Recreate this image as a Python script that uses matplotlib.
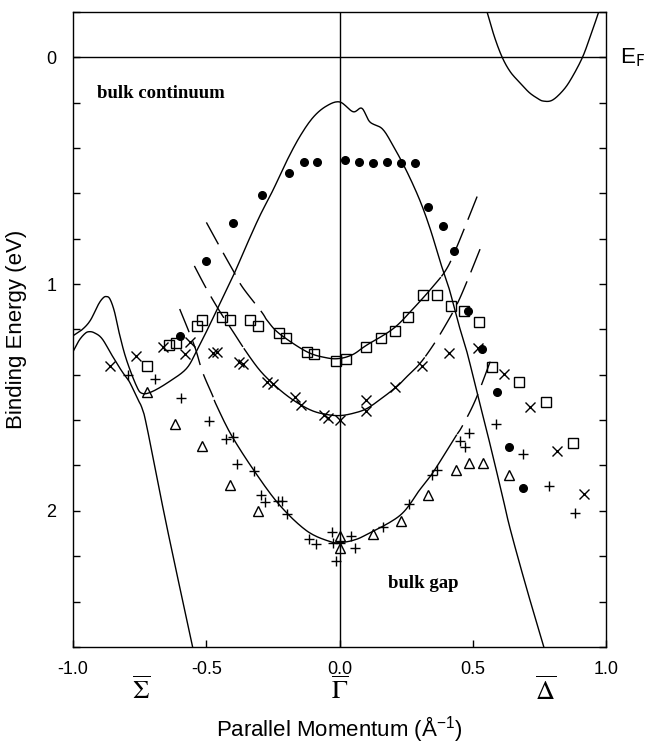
import numpy as np
import matplotlib
matplotlib.use('Agg')
import matplotlib.pyplot as plt
from matplotlib.ticker import MultipleLocator
import matplotlib.transforms as mtransforms

plt.rcParams['font.family'] = ['Liberation Sans', 'DejaVu Sans']
plt.rcParams['axes.unicode_minus'] = False

# --- calculated bulk band edges (k in 1/A, E in eV) ---
dome_k = [-1.0, -0.965, -0.935, -0.905, -0.888, -0.876, -0.862, -0.845, -0.827, -0.801,
          -0.763, -0.741, -0.703, -0.639, -0.575, -0.538, -0.50, -0.459, -0.40, -0.35,
          -0.30, -0.25, -0.20, -0.15, -0.10, -0.05, 0.0, 0.05, 0.083, 0.113, 0.16, 0.20,
          0.25, 0.30, 0.34, 0.376, 0.41, 0.444, 0.477, 0.515, 0.56, 0.609, 0.639, 0.70,
          0.77]
dome_E = [1.228, 1.20, 1.16, 1.09, 1.062, 1.055, 1.065, 1.12, 1.215, 1.329,
          1.447, 1.482, 1.474, 1.430, 1.373, 1.298, 1.21, 1.11, 0.965, 0.83,
          0.70, 0.585, 0.46, 0.35, 0.265, 0.215, 0.197, 0.24, 0.225, 0.285, 0.316, 0.39,
          0.50, 0.63, 0.76, 0.90, 1.02, 1.17, 1.30, 1.48, 1.69, 1.93, 2.08, 2.34,
          2.62]

lower_k = [-1.0, -0.977, -0.955, -0.94, -0.92, -0.891, -0.853, -0.816, -0.789, -0.759,
           -0.741, -0.722, -0.65, -0.548]
lower_E = [1.298, 1.248, 1.218, 1.21, 1.215, 1.241, 1.316, 1.386, 1.43, 1.504,
           1.548, 1.636, 2.06, 2.62]

fermi_k = [0.545, 0.553, 0.58, 0.609, 0.64, 0.677, 0.71, 0.74, 0.763, 0.797, 0.838,
           0.87, 0.91, 0.94, 0.97, 0.975]
fermi_E = [-0.22, -0.197, -0.09, 0.0, 0.065, 0.114, 0.155, 0.18, 0.193, 0.189, 0.145,
           0.09, 0.0, -0.095, -0.197, -0.22]

# --- fitted surface-state bands (solid inside fit range, dashed outside) ---
band1_k = [-0.50, -0.451, -0.40, -0.365, -0.293, -0.271, -0.226, -0.124, -0.05, 0.0,
           0.05, 0.10, 0.20, 0.274, 0.35, 0.40, 0.44, 0.515]
band1_E = [0.728, 0.833, 0.94, 1.013, 1.123, 1.162, 1.219, 1.298, 1.325, 1.328,
           1.31, 1.27, 1.197, 1.11, 1.01, 0.934, 0.833, 0.614]
band1_fit = (-0.28, 0.38)

band2_k = [-0.545, -0.50, -0.45, -0.40, -0.35, -0.30, -0.25, -0.20, -0.15, -0.10, -0.05,
           0.0, 0.05, 0.10, 0.15, 0.214, 0.25, 0.30, 0.35, 0.395, 0.44, 0.48, 0.526]
band2_E = [0.92, 1.02, 1.12, 1.21, 1.30, 1.38, 1.44, 1.49, 1.53, 1.56, 1.575,
           1.58, 1.57, 1.55, 1.51, 1.452, 1.41, 1.351, 1.27, 1.184, 1.088, 0.98, 0.846]
band2_fit = (-0.36, 0.32)

band3_k = [-0.60, -0.545, -0.515, -0.477, -0.462, -0.406, -0.32, -0.226, -0.124, -0.038,
           0.0, 0.05, 0.10, 0.226, 0.30, 0.35, 0.43, 0.459, 0.508, 0.564]
band3_E = [1.11, 1.272, 1.386, 1.491, 1.535, 1.667, 1.825, 1.974, 2.088, 2.135,
           2.14, 2.13, 2.105, 2.02, 1.907, 1.83, 1.68, 1.627, 1.513, 1.342]
band3_fit = (-0.47, 0.44)

# --- measured peaks ---
dots_k = [-0.598, -0.50, -0.40, -0.293, -0.19, -0.135, -0.086, 0.019, 0.071, 0.124,
          0.177, 0.229, 0.282, 0.33, 0.386, 0.43, 0.48, 0.534, 0.59, 0.636, 0.688]
dots_E = [1.228, 0.90, 0.73, 0.605, 0.51, 0.46, 0.46, 0.455, 0.46, 0.465,
          0.46, 0.465, 0.465, 0.66, 0.745, 0.856, 1.12, 1.285, 1.474, 1.72, 1.90]

sq_k = [-0.722, -0.639, -0.613, -0.537, -0.515, -0.44, -0.41, -0.335, -0.308, -0.229,
        -0.203, -0.124, -0.098, -0.015, 0.023, 0.10, 0.154, 0.207, 0.256, 0.312,
        0.364, 0.417, 0.466, 0.522, 0.571, 0.673, 0.774, 0.876]
sq_E = [1.36, 1.268, 1.259, 1.187, 1.157, 1.145, 1.16, 1.157, 1.184, 1.215,
        1.237, 1.298, 1.307, 1.338, 1.329, 1.276, 1.237, 1.206, 1.145, 1.048,
        1.048, 1.096, 1.118, 1.167, 1.364, 1.434, 1.522, 1.70]

x_k = [-0.861, -0.763, -0.662, -0.579, -0.56, -0.477, -0.459, -0.376, -0.361, -0.271,
       -0.252, -0.169, -0.147, -0.06, -0.045, 0.0, 0.10, 0.10, 0.207, 0.308,
       0.41, 0.519, 0.617, 0.714, 0.816, 0.914]
x_E = [1.36, 1.316, 1.276, 1.307, 1.254, 1.303, 1.298, 1.342, 1.351, 1.43,
       1.439, 1.50, 1.535, 1.579, 1.592, 1.60, 1.513, 1.561, 1.452, 1.36,
       1.303, 1.281, 1.395, 1.54, 1.737, 1.925]

plus_k = [-0.793, -0.692, -0.594, -0.489, -0.425, -0.402, -0.387, -0.32, -0.297, -0.282,
          -0.233, -0.218, -0.199, -0.117, -0.09, -0.03, -0.026, 0.0, 0.041, 0.056,
          -0.015, 0.162, 0.259, 0.346, 0.365, 0.451, 0.485, 0.47, 0.586, 0.688,
          0.786, 0.883]
plus_E = [1.399, 1.417, 1.504, 1.605, 1.684, 1.675, 1.794, 1.825, 1.93, 1.96,
          1.956, 1.956, 2.013, 2.123, 2.145, 2.092, 2.14, 2.14, 2.11, 2.162,
          2.22, 2.07, 1.97, 1.84, 1.82, 1.693, 1.658, 1.72, 1.618, 1.75,
          1.89, 2.01]

tri_k = [-0.722, -0.617, -0.515, -0.41, -0.308, 0.0, 0.0, 0.124, 0.229, 0.331,
         0.436, 0.485, 0.538, 0.636]
tri_E = [1.474, 1.618, 1.715, 1.886, 2.0, 2.11, 2.162, 2.10, 2.044, 1.93,
         1.82, 1.79, 1.79, 1.84]

xticks = [-1.0, -0.5, 0.0, 0.5, 1.0]
xtick_labels = ['-1.0', '-0.5', '0.0', '0.5', '1.0']
yticks = [0, 1, 2]
points = [(-0.745, r'$\overline{\Sigma}$'), (0.0, r'$\overline{\Gamma}$'), (0.77, r'$\overline{\Delta}$')]


def smooth(xs, ys, n=12):
    # catmull-rom through the read points, only for drawing
    p = np.column_stack([xs, ys]).astype(float)
    p = np.vstack([p[0], p, p[-1]])
    out = []
    t = np.linspace(0, 1, n, endpoint=False)[:, None]
    for i in range(1, len(p) - 2):
        p0, p1, p2, p3 = p[i - 1], p[i], p[i + 1], p[i + 2]
        seg = 0.5 * ((2 * p1) + (-p0 + p2) * t + (2 * p0 - 5 * p1 + 4 * p2 - p3) * t ** 2
                     + (-p0 + 3 * p1 - 3 * p2 + p3) * t ** 3)
        out.append(seg)
    out.append(p[-2][None, :])
    out = np.vstack(out)
    return out[:, 0], out[:, 1]


fig = plt.figure(figsize=(6.49, 7.47), dpi=100)
ax = fig.add_axes([0.1125, 0.134, 0.822, 0.850])

lw = 1.0
for ck, cE in [(dome_k, dome_E), (lower_k, lower_E), (fermi_k, fermi_E)]:
    sx, sy = smooth(ck, cE)
    ax.plot(sx, sy, color='black', lw=lw)

for bk, bE, (k0, k1) in [(band1_k, band1_E, band1_fit),
                          (band2_k, band2_E, band2_fit),
                          (band3_k, band3_E, band3_fit)]:
    kk, ee = smooth(bk, bE)
    inside = (kk >= k0) & (kk <= k1)
    ax.plot(kk[inside], ee[inside], color='black', lw=lw)
    left = kk <= k0
    right = kk >= k1
    ax.plot(kk[left], ee[left], color='black', lw=lw, dashes=(18, 7))
    ax.plot(kk[right][::-1], ee[right][::-1], color='black', lw=lw, dashes=(18, 7))

ax.axhline(0, color='black', lw=lw)
ax.axvline(0, color='black', lw=lw)

ax.plot(dots_k, dots_E, 'o', color='black', ms=5.5, ls='none')
ax.plot(sq_k, sq_E, 's', mfc='none', mec='black', mew=1.0, ms=7, ls='none')
ax.plot(x_k, x_E, 'x', color='black', mew=1.0, ms=7, ls='none')
ax.plot(plus_k, plus_E, '+', color='black', mew=1.0, ms=7, ls='none')
ax.plot(tri_k, tri_E, '^', mfc='none', mec='black', mew=1.0, ms=6.5, ls='none')

ax.set_xlim(-1.0, 1.0)
ax.set_ylim(2.6, -0.2)
ax.set_xticks(xticks)
ax.set_xticklabels(xtick_labels)
ax.set_yticks(yticks)
ax.yaxis.set_minor_locator(MultipleLocator(0.2))
ax.tick_params(axis='y', which='both', direction='in', left=True, right=True, length=5, width=1)
ax.tick_params(axis='y', which='major', labelsize=13, pad=12)
ax.tick_params(axis='x', which='both', direction='in', top=False, bottom=True, length=5, width=1, labelsize=13, pad=10)
for s in ax.spines.values():
    s.set_linewidth(1.0)

ax.text(-0.91, 0.18, 'bulk continuum', family=['Liberation Serif', 'DejaVu Serif'],
        fontweight='bold', fontsize=13.5, va='baseline', ha='left')
ax.text(0.18, 2.34, 'bulk gap', family=['Liberation Serif', 'DejaVu Serif'],
        fontweight='bold', fontsize=13.5, va='baseline', ha='left')

trans = mtransforms.blended_transform_factory(ax.transAxes, ax.transData)
ax.text(1.025, 0.0, r'E$_\mathrm{F}$', transform=trans, fontsize=16, va='center', ha='left')

trans2 = mtransforms.blended_transform_factory(ax.transData, ax.transAxes)
for kx, lab in points:
    ax.text(kx, -0.068, lab, transform=trans2, fontsize=19, ha='center', va='center',
            math_fontfamily='stix')

ax.set_ylabel('Binding Energy (eV)', fontsize=16, labelpad=14)
ax.set_xlabel(r'Parallel Momentum (Å$^{\mathregular{-1}}$)', fontsize=16, labelpad=26)

fig.savefig('out.png', dpi=100)
